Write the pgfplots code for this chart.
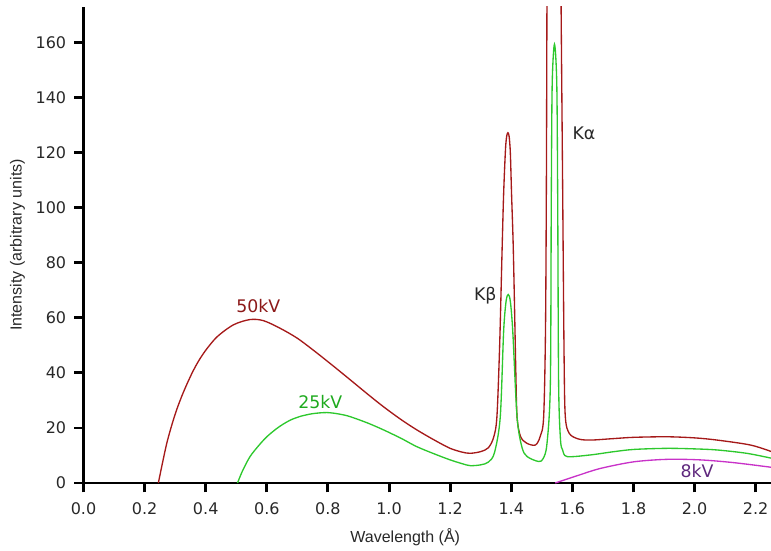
\documentclass[border=0pt]{standalone}
\usepackage{pgfplots}
\pgfplotsset{compat=1.18}
\usepackage{fontspec}
\setmainfont{Liberation Sans}
\newfontfamily\dejavu{DejaVu Sans}
\definecolor{redline}{RGB}{165,25,25}
\definecolor{greenline}{RGB}{45,200,45}
\definecolor{magline}{RGB}{200,50,200}
\definecolor{redtxt}{RGB}{140,25,25}
\definecolor{greentxt}{RGB}{30,170,30}
\definecolor{purptxt}{RGB}{95,40,125}
\definecolor{txt}{RGB}{40,40,40}
\begin{document}
\begin{tikzpicture}[x=0.75pt,y=0.75pt]
\begin{axis}[
  at={(0,0)}, anchor=south west,
  scale only axis,
  width=515.6pt, height=357pt,
  xmin=0, xmax=2.25, ymin=0, ymax=173,
  axis x line=bottom, axis y line=left,
  axis line style={line width=2.2pt, -},
  every tick/.style={line width=2.2pt, black},
  major tick length=7pt,
  tick align=outside,
  xtick={0,0.2,...,2.21}, ytick={0,20,...,160},
  xticklabel style={/pgf/number format/fixed, /pgf/number format/fixed zerofill, /pgf/number format/precision=1, yshift=-4pt},
  yticklabel style={xshift=-2.5pt},
  /pgf/number format/assume math mode=true,
  tick label style={font=\dejavu\fontsize{12}{14}\selectfont, text=txt},
  label style={font=\fontsize{12}{14}\selectfont, text=txt},
  xlabel={Wavelength (Å)},
  ylabel={Intensity (arbitrary units)},
  xlabel style={at={(axis description cs:0.468,-0.113)}, anchor=center},
  ylabel style={at={(axis description cs:-0.096,0.5)}, anchor=center},
  clip=true,
]
% 50 kV
\addplot[redline, line width=1pt, smooth] coordinates {
(0.245,0) (0.2725,14.4) (0.30,25.0) (0.327,33.0) (0.36,41.0) (0.392,47.0) (0.436,53.0) (0.491,57.5) (0.545,59.4) (0.589,59) (0.644,56.2) (0.70,52.6) (0.76,47.6) (0.82,42.3) (0.873,37.5) (0.93,32.3) (0.982,27.7) (1.04,23) (1.091,19.3) (1.15,15.5) (1.2,12.6) (1.24,11.2) (1.266,10.8) (1.30,11.4) (1.325,12.8) (1.342,16.5) (1.353,24) (1.362,50) (1.37,84.7) (1.375,105) (1.381,121) (1.385,126) (1.389,127.3) (1.393,126) (1.397,120) (1.401,105) (1.406,88) (1.41,68) (1.415,40) (1.419,24) (1.43,17) (1.45,14.5) (1.479,13.8) (1.495,17) (1.506,24) (1.512,55) (1.515,110) (1.517,180) (1.52,250) (1.54,300) (1.558,250) (1.563,175) (1.568,110) (1.573,45) (1.577,24) (1.59,18) (1.62,16) (1.659,15.6) (1.73,16.1) (1.801,16.6) (1.91,16.8) (2.0,16.4) (2.074,15.6) (2.183,13.8) (2.252,11.4)
};
% 25 kV
\addplot[greenline, line width=1pt, smooth] coordinates {
(0.504,0) (0.52,4.3) (0.545,9.6) (0.575,13.8) (0.6,16.8) (0.63,19.6) (0.655,21.5) (0.68,23) (0.709,24.2) (0.75,25.2) (0.797,25.6) (0.84,25) (0.873,24.1) (0.93,21.8) (0.982,19.3) (1.04,16.2) (1.091,13.2) (1.15,10.5) (1.2,8.4) (1.24,7) (1.266,6.3) (1.30,6.6) (1.325,7.6) (1.345,11) (1.364,24) (1.375,55) (1.383,66) (1.39,68.5) (1.397,66) (1.405,55) (1.419,24) (1.435,13) (1.452,9.6) (1.49,7.8) (1.505,9) (1.517,14.4) (1.528,36.3) (1.531,103) (1.534,145) (1.5415,159.5) (1.549,145) (1.552,103) (1.555,36.3) (1.561,16) (1.568,12) (1.583,9.6) (1.659,10.2) (1.73,11.3) (1.801,12.2) (1.91,12.6) (2.0,12.4) (2.074,12) (2.17,10.8) (2.252,9)
};
% 8 kV
\addplot[magline, line width=1pt, smooth] coordinates {
(1.544,0) (1.62,2.8) (1.692,5.3) (1.801,7.7) (1.91,8.6) (2.019,8.4) (2.128,7.4) (2.252,5.7)
};
\node[text=redtxt, font=\dejavu\fontsize{13}{15}\selectfont] at (axis cs:0.572,64.4) {50kV};
\node[text=greentxt, font=\dejavu\fontsize{13}{15}\selectfont] at (axis cs:0.775,29.5) {25kV};
\node[text=purptxt, font=\dejavu\fontsize{13}{15}\selectfont] at (axis cs:2.008,4.3) {8kV};
\node[text=txt, font=\dejavu\fontsize{13}{15}\selectfont] at (axis cs:1.315,68) {Kβ};
\node[text=txt, font=\dejavu\fontsize{13}{15}\selectfont] at (axis cs:1.638,127) {Kα};
\end{axis}
\pgfresetboundingbox
\path[use as bounding box] (-83.5,-67) rectangle (687.5,483);
\end{tikzpicture}
\end{document}
